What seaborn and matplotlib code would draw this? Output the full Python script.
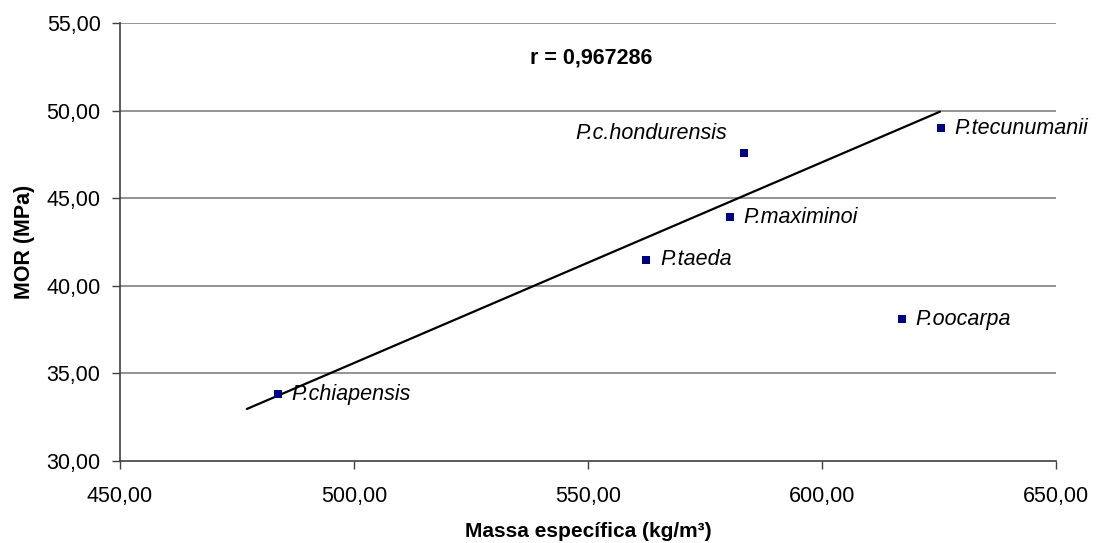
import matplotlib
matplotlib.use("Agg")
import matplotlib.pyplot as plt
import seaborn as sns
import pandas as pd

# Species means: specific mass (kg/m³) and MOR (MPa)
species = ["P.chiapensis", "P.taeda", "P.maximinoi", "P.c.hondurensis",
           "P.tecunumanii", "P.oocarpa"]
massa = [483.7, 562.4, 580.3, 583.3, 625.4, 617.0]
mor = [33.8, 41.5, 43.9, 47.6, 49.0, 38.1]

# Trend line end points
trend_x = [477.1, 625.2]
trend_y = [32.97, 49.94]

r_text = "r = 0,967286"
x_ticks = [450, 500, 550, 600, 650]
y_ticks = [30, 35, 40, 45, 50, 55]

sns.set_theme(style="white")
plt.rcParams["font.family"] = ["Liberation Sans", "DejaVu Sans"]
plt.rcParams["text.color"] = "black"
plt.rcParams["axes.labelcolor"] = "black"
plt.rcParams["xtick.color"] = "black"
plt.rcParams["ytick.color"] = "black"

df = pd.DataFrame({"species": species, "massa": massa, "mor": mor})
trend = pd.DataFrame({"x": trend_x, "y": trend_y})

fig = plt.figure(figsize=(11.02, 5.43), dpi=100)
ax = fig.add_axes([0.1089, 0.151, 0.8494, 0.8066])

for yv in y_ticks[1:]:
    ax.axhline(yv, color="#808080", lw=1.2, zorder=0)

sns.lineplot(data=trend, x="x", y="y", ax=ax, color="black", lw=1.6,
             zorder=2, estimator=None, sort=False)
sns.scatterplot(data=df, x="massa", y="mor", ax=ax, marker="s", s=38,
                color="#000080", edgecolor="#000080", linewidth=0, zorder=3)

for name, xv, yv in zip(species, massa, mor):
    if name == "P.c.hondurensis":
        ax.annotate(name, (xv, yv), xytext=(-12, 14), textcoords="offset points",
                    ha="right", va="center", fontsize=15.5, style="italic")
    else:
        ax.annotate(name, (xv, yv), xytext=(10, 0), textcoords="offset points",
                    ha="left", va="center", fontsize=15.5, style="italic")

ax.text(550.6, 53.03, r_text, ha="center", va="center", fontsize=15.5,
        fontweight="bold")

ax.set_xlim(450, 650)
ax.set_ylim(30, 55)
ax.set_xticks(x_ticks)
ax.set_yticks(y_ticks)
ax.set_xticklabels([f"{v:.2f}".replace(".", ",") for v in x_ticks])
ax.set_yticklabels([f"{v:.2f}".replace(".", ",") for v in y_ticks])
ax.tick_params(axis="both", labelsize=15.5, length=6, width=1,
               color="#404040", labelcolor="black", direction="out",
               bottom=True, left=True)
ax.tick_params(axis="x", pad=12)
ax.tick_params(axis="y", pad=8)
ax.set_xlabel("Massa específica (kg/m³)", fontsize=15, fontweight="bold",
              labelpad=11)
ax.set_ylabel("MOR (MPa)", fontsize=15.5, fontweight="bold", labelpad=8)

for side in ["top", "right"]:
    ax.spines[side].set_visible(False)
for side in ["left", "bottom"]:
    ax.spines[side].set_color("#404040")
    ax.spines[side].set_linewidth(1.2)

fig.savefig("out.png", dpi=100)
